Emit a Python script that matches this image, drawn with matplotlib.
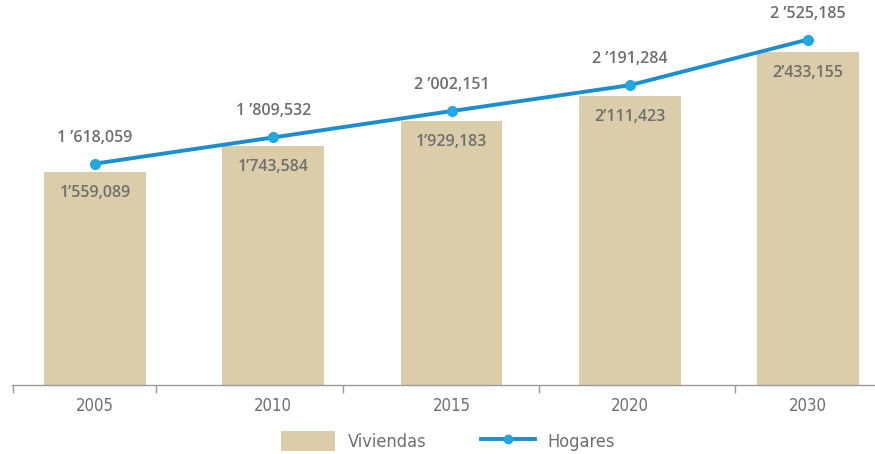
import matplotlib.pyplot as plt
from matplotlib.lines import Line2D
from matplotlib.patches import Patch

# Datos
anios = ["2005", "2010", "2015", "2020", "2030"]
viviendas = [1559089, 1743584, 1929183, 2111423, 2433155]
hogares = [1618059, 1809532, 2002151, 2191284, 2525185]
etiq_viviendas = ["1’559,089", "1’743,584", "1’929,183", "2’111,423", "2’433,155"]
etiq_hogares = ["1 ’618,059", "1 ’809,532", "2 ’002,151", "2 ’191,284", "2 ’525,185"]
marcas_eje = [-0.46, 0.34, 1.39, 2.49, 3.59]

color_barra = "#DCCDAA"
color_linea = "#1B8ED0"
color_punto = "#22A8E0"
gris = "#6E6E6E"
fuente = ["Open Sans", "DejaVu Sans"]

fig = plt.figure(figsize=(8.75, 4.54), dpi=100)
ax = fig.add_axes([12 / 875, 0.152, 863 / 875, 0.848])

x = list(range(len(anios)))
ax.bar(x, viviendas, width=0.57, color=color_barra, zorder=1)
ax.plot(x, hogares, color=color_linea, lw=2.8, zorder=3,
        marker="o", markersize=7, markerfacecolor=color_punto,
        markeredgecolor=color_punto)

for i in x:
    ax.annotate(etiq_viviendas[i], (i, viviendas[i]), xytext=(0, -21),
                textcoords="offset pixels", ha="center", va="center",
                fontsize=11.5, color=gris, family=fuente, fontweight="semibold")
    ax.annotate(etiq_hogares[i], (i, hogares[i]), xytext=(0, 26),
                textcoords="offset pixels", ha="center", va="center",
                fontsize=11.5, color=gris, family=fuente, fontweight="semibold")

ax.set_xlim(-0.466, 4.376)
ax.set_ylim(0, 2814000)

for s in ["top", "right", "left"]:
    ax.spines[s].set_visible(False)
ax.spines["bottom"].set_color("#9A9A9A")
ax.spines["bottom"].set_linewidth(1.0)
ax.set_yticks([])

ax.set_xticks(x)
ax.set_xticklabels(anios, family="DejaVu Sans", stretch="condensed",
                   fontsize=12, color=gris)
ax.tick_params(axis="x", which="major", length=0, pad=9)
ax.set_xticks(marcas_eje, minor=True)
ax.tick_params(axis="x", which="minor", length=6, color="#9A9A9A", width=1)

handles = [
    Patch(facecolor=color_barra, edgecolor="none"),
    Line2D([0], [0], color=color_linea, lw=2.8, marker="o", markersize=6,
           markerfacecolor=color_punto, markeredgecolor=color_punto),
]
fig.legend(handles, ["Viviendas", "Hogares"], loc="center",
           bbox_to_anchor=(0.512, 0.028), ncol=2, frameon=False,
           prop={"family": "DejaVu Sans", "stretch": "condensed", "size": 13},
           labelcolor=gris, handlelength=3.0, handleheight=1.3,
           columnspacing=3.0, handletextpad=0.7)

fig.savefig("out.png", dpi=100)
